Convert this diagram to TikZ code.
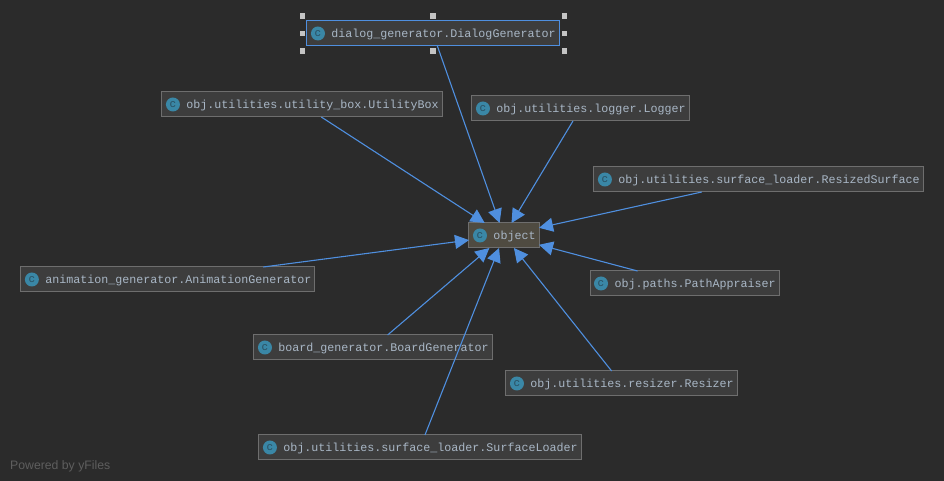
\documentclass[tikz,border=0pt]{standalone}
\usepackage{fontspec}
\setmainfont{Liberation Sans}
\setmonofont{Liberation Mono}
\usetikzlibrary{positioning,arrows.meta}
\definecolor{canvas}{HTML}{2B2B2B}
\definecolor{boxfill}{HTML}{3D3D3D}
\definecolor{objfill}{HTML}{4F4B41}
\definecolor{boxline}{HTML}{6E6E6E}
\definecolor{edgeblue}{HTML}{4F8FDF}
\definecolor{textgrey}{HTML}{A9B7C6}
\definecolor{iconteal}{HTML}{3A87A6}
\definecolor{iconc}{HTML}{2A4F60}
\definecolor{handlegrey}{HTML}{C4C4C4}
\definecolor{creditgrey}{HTML}{5E5E5E}
\tikzset{
  classbox/.style={draw=boxline, fill=boxfill, line width=1pt, outer sep=0pt,
    minimum height=25pt, inner ysep=0pt, inner xsep=3.5pt,
    text=textgrey, font=\ttfamily\fontsize{11.67pt}{14pt}\selectfont,
    text height=9pt, text depth=1.5pt,
    execute at begin node={\hspace*{21pt}}},
  classicon/.style={circle, fill=iconteal, minimum size=14pt, inner sep=0pt,
    text=iconc, font=\ttfamily\fontsize{11pt}{11pt}\selectfont},
  inherits/.style={draw=edgeblue, line width=1.1pt, -{Triangle[length=14pt,width=14pt]}},
  handle/.style={fill=handlegrey, minimum size=5.5pt, inner sep=0pt},
}
\begin{document}
\begin{tikzpicture}
\useasboundingbox[fill=canvas] (0,0) rectangle (944pt,481pt);
\node [classbox, fill=objfill] (object) at (504pt,245.5pt) {object};
\node [classbox, above=177pt of object, xshift=-71pt] (dialog) {dialog\_generator.DialogGenerator};
\node [classbox, above=106pt of object, xshift=-202pt] (utility) {obj.utilities.utility\_box.UtilityBox};
\node [classbox, above=102pt of object, xshift=76.5pt] (logger) {obj.utilities.logger.Logger};
\node [classbox, above=31pt of object, xshift=254.5pt] (resized) {obj.utilities.surface\_loader.ResizedSurface};
\node [classbox, left=154pt of object, yshift=-44pt] (animation) {animation\_generator.AnimationGenerator};
\node [classbox, right=51pt of object, yshift=-48pt] (paths) {obj.paths.PathAppraiser};
\node [classbox, below=87pt of object, xshift=-131pt] (board) {board\_generator.BoardGenerator};
\node [classbox, below=123pt of object, xshift=117.5pt] (resizer) {obj.utilities.resizer.Resizer};
\node [classbox, below=187pt of object, xshift=-84pt] (surface) {obj.utilities.surface\_loader.SurfaceLoader};
\node [anchor=west, text=creditgrey, font=\fontsize{12.25pt}{14pt}\selectfont, inner sep=0pt] (credit) at (10pt,14.5pt) {Powered by yFiles};

\foreach \cname in {object,dialog,utility,logger,resized,animation,paths,board,resizer,surface}
  \node [classicon] (\cname icon) at ([xshift=11pt]\cname.west) {c};

\foreach \cname in {dialog,utility,logger,resized,animation,paths,board,resizer,surface}
  \draw [inherits] (\cname) -- (object);

% selected node gets a blue outline and handles
\draw [edgeblue, line width=1pt] (dialog.south west) rectangle (dialog.north east);
\foreach \hname/\hanchor/\dx/\dy in {hnw/north west/-4.5/5, hn/north/0/5, hne/north east/5.5/5, hw/west/-4.5/0, he/east/5.5/0, hsw/south west/-4.5/-5, hs/south/0/-5, hse/south east/5.5/-5}
  \node [handle] (\hname) at ([xshift=\dx pt,yshift=\dy pt]dialog.\hanchor) {};
\end{tikzpicture}
\end{document}
